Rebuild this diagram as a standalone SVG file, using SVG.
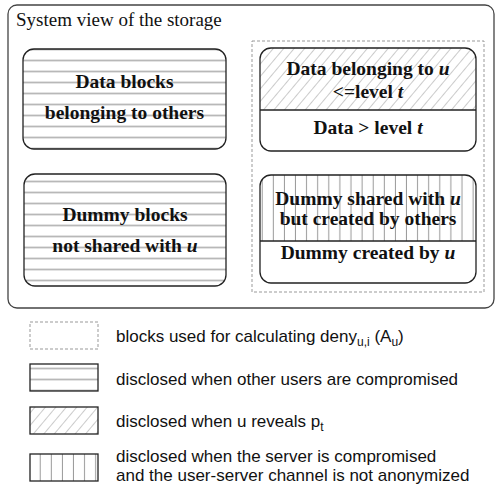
<svg xmlns="http://www.w3.org/2000/svg" width="495" height="487" viewBox="0 0 495 487">
<style>
.box{fill:none;stroke:#222;stroke-width:1.3}
.outer{fill:none;stroke:#444;stroke-width:1.3}
.dash{fill:none;stroke:#999;stroke-width:1;stroke-dasharray:3,2}
.t{font-family:"Liberation Serif","Times New Roman",serif;font-weight:bold;font-size:19.5px;fill:#111;text-anchor:middle}
.title{font-family:"Liberation Serif","Times New Roman",serif;font-size:19px;fill:#111}
.lg{font-family:"Liberation Sans",Arial,sans-serif;font-size:17px;fill:#111}
.sub{font-size:12px}
</style>
<defs>
<pattern id="hstripe" patternUnits="userSpaceOnUse" width="20" height="11" y="0">
<line x1="0" y1="5.5" x2="20" y2="5.5" stroke="#b8b8b8" stroke-width="1.8"/>
</pattern>
<pattern id="vstripe" patternUnits="userSpaceOnUse" width="11.1" height="20">
<line x1="6.9" y1="0" x2="6.9" y2="20" stroke="#999" stroke-width="1"/>
</pattern>
<pattern id="hatch" patternUnits="userSpaceOnUse" width="8" height="8" patternTransform="rotate(40)">
<line x1="0" y1="0" x2="0" y2="8" stroke="#a8a8a8" stroke-width="1.2"/>
</pattern>
</defs>

<g id="system">
<rect class="outer" x="8" y="5" width="486" height="303" rx="9"/>
<text class="title" x="16" y="26">System view of the storage</text>
</g>

<g id="auset">
<rect class="dash" x="252" y="41" width="232" height="251"/>
</g>

<g id="data-others">
<rect x="23" y="49" width="203" height="100" rx="11" fill="url(#hstripe)"/>
<rect class="box" x="23" y="49" width="203" height="100" rx="11"/>
<text class="t" x="124.5" y="88">Data blocks</text>
<text class="t" x="124.5" y="119">belonging to others</text>
</g>

<g id="dummy-not-shared">
<rect x="24" y="174" width="202" height="112" rx="11" fill="url(#hstripe)"/>
<rect class="box" x="24" y="174" width="202" height="112" rx="11"/>
<text class="t" x="125" y="221">Dummy blocks</text>
<text class="t" x="125" y="252">not shared with <tspan font-style="italic">u</tspan></text>
</g>

<g id="data-u">
<path d="M260,110 V59 A11,11 0 0 1 271,48 H465 A11,11 0 0 1 476,59 V110 Z" fill="url(#hatch)"/>
<rect class="box" x="260" y="48" width="216" height="103" rx="11"/>
<line class="box" x1="260" y1="110" x2="476" y2="110"/>
<text class="t" x="368" y="75">Data belonging to <tspan font-style="italic">u</tspan></text>
<text class="t" x="368" y="98">&lt;=level <tspan font-style="italic">t</tspan></text>
<text class="t" x="368" y="134">Data &gt; level <tspan font-style="italic">t</tspan></text>
</g>

<g id="dummy-u">
<path d="M260,241 V186 A11,11 0 0 1 271,175 H465 A11,11 0 0 1 476,186 V241 Z" fill="url(#vstripe)"/>
<rect class="box" x="260" y="175" width="216" height="108" rx="11"/>
<line class="box" x1="260" y1="241" x2="476" y2="241"/>
<text class="t" x="368" y="205">Dummy shared with <tspan font-style="italic">u</tspan></text>
<text class="t" x="368" y="225">but created by others</text>
<text class="t" x="368" y="259">Dummy created by <tspan font-style="italic">u</tspan></text>
</g>

<g id="legend-dashed">
<rect class="dash" x="30" y="322" width="68" height="27"/>
<text class="lg" x="116" y="342">blocks used for calculating deny<tspan class="sub" dy="4">u,i</tspan><tspan dy="-4"> (A</tspan><tspan class="sub" dy="4">u</tspan><tspan dy="-4">)</tspan></text>
</g>

<g id="legend-hstripe">
<rect x="30" y="364" width="68" height="27" fill="url(#hstripe)"/>
<rect class="box" x="30" y="364" width="68" height="27"/>
<text class="lg" x="116" y="385">disclosed when other users are compromised</text>
</g>

<g id="legend-hatch">
<rect x="30" y="407" width="68" height="27" fill="url(#hatch)"/>
<rect class="box" x="30" y="407" width="68" height="27"/>
<text class="lg" x="116" y="427">disclosed when u reveals p<tspan class="sub" dy="4">t</tspan></text>
</g>

<g id="legend-vstripe">
<rect x="30" y="454" width="68" height="27" fill="url(#vstripe)"/>
<rect class="box" x="30" y="454" width="68" height="27"/>
<text class="lg" x="116" y="461.5">disclosed when the server is compromised</text>
<text class="lg" x="116" y="481">and the user-server channel is not anonymized</text>
</g>

<g id="connectors"></g>
</svg>
